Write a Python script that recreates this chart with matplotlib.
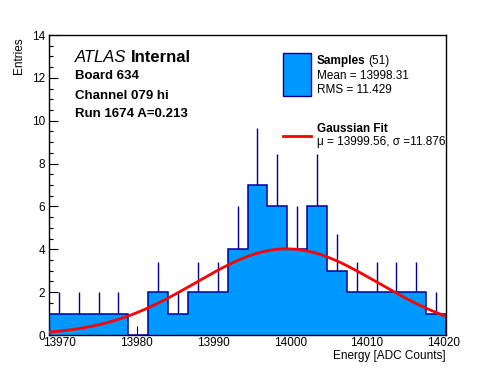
import numpy as np
import matplotlib
matplotlib.use("Agg")
import matplotlib.pyplot as plt
from matplotlib.ticker import MultipleLocator

plt.rcParams['font.family'] = ['Liberation Sans', 'DejaVu Sans']

# ---- data ----
x_min, x_max = 13968.6, 14020.3
counts = [1, 1, 1, 1, 0, 2, 1, 2, 2, 4, 7, 6, 4, 6, 3, 2, 2, 2, 2, 1]
fit_amp = 4.02
fit_mu = 13999.56
fit_sigma = 11.876
n_samples = 51
mean_val = "13998.31"
rms_val = "11.429"
x_ticks = [13970, 13980, 13990, 14000, 14010, 14020]
y_ticks = [0, 2, 4, 6, 8, 10, 12, 14]

counts = np.array(counts, dtype=float)
edges = np.linspace(x_min, x_max, len(counts) + 1)
centers = 0.5 * (edges[:-1] + edges[1:])

W, H = 496, 372
fig = plt.figure(figsize=(W / 100, H / 100), dpi=100)
ax = fig.add_axes([49 / W, (H - 335) / H, (446 - 49) / W, (335 - 35) / H])

fill_c = '#0099ff'
edge_c = '#000099'

# error bars (partially hidden behind fill)
mask = counts > 0
err = np.sqrt(counts)
ax.vlines(centers[mask], (counts - err)[mask], (counts + err)[mask],
          color=edge_c, lw=1, zorder=1)
ax.stairs(counts, edges, fill=True, facecolor=fill_c, edgecolor='none',
          zorder=2, baseline=0)
ax.stairs(counts, edges, fill=False, edgecolor=edge_c, lw=1.1, zorder=3,
          baseline=0)

xs = np.linspace(x_min, x_max, 400)
ys = fit_amp * np.exp(-0.5 * ((xs - fit_mu) / fit_sigma) ** 2)
ax.plot(xs, ys, color='#ff0000', lw=2, zorder=4)

ax.set_xlim(x_min, x_max)
ax.set_ylim(0, 14)
ax.set_xticks(x_ticks)
ax.set_yticks(y_ticks)
ax.xaxis.set_minor_locator(MultipleLocator(2))
ax.yaxis.set_minor_locator(MultipleLocator(0.5))
ax.tick_params(which='both', direction='in', top=False, right=False,
               labelsize=8.5, width=0.8, color='black')
ax.tick_params(axis='x', which='major', length=6.5, pad=1.5)
ax.tick_params(axis='x', which='minor', length=3.2)
ax.tick_params(axis='y', which='major', length=6.5, pad=3)
ax.tick_params(axis='y', which='minor', length=3.2)
for s in ax.spines.values():
    s.set_linewidth(1)
    s.set_color('black')

# axis titles
fig.text(19 / W, 1 - 37 / H, 'Entries', rotation=90, ha='center', va='top',
         fontsize=8.5)
fig.text(446 / W, 1 - 356 / H, 'Energy [ADC Counts]', ha='right',
         va='center', fontsize=8.5)

# ATLAS labels
t = fig.text(75 / W, 1 - 57 / H, 'ATLAS', style='italic', fontsize=12,
             va='center', ha='left')
fig.canvas.draw()
bb = t.get_window_extent()
fig.text(bb.x1 / W + 4 / W, 1 - 57 / H, 'Internal', fontweight='bold',
         fontsize=12, va='center', ha='left')
fig.text(75 / W, 1 - 76 / H, 'Board 634', fontweight='bold', fontsize=9.5,
         va='center')
fig.text(75 / W, 1 - 96 / H, 'Channel 079 hi', fontweight='bold',
         fontsize=9.5, va='center')
fig.text(75 / W, 1 - 114 / H, 'Run 1674 A=0.213', fontweight='bold',
         fontsize=9.5, va='center')

# legend
ax_leg = fig.add_axes([0, 0, 1, 1], facecolor='none')
ax_leg.set_xlim(0, W)
ax_leg.set_ylim(H, 0)
ax_leg.axis('off')
ax_leg.add_patch(plt.Rectangle((283, 53), 28, 43, facecolor=fill_c,
                               edgecolor=edge_c, lw=1))
ax_leg.plot([283, 311], [136, 136], color='#ff0000', lw=2)
t2 = ax_leg.text(317, 61, 'Samples', fontweight='bold', fontsize=8.5,
                 va='center')
fig.canvas.draw()
bb2 = t2.get_window_extent()
fig.text(bb2.x1 / W + 3 / W, 1 - 61 / H, f'({n_samples})', fontsize=8.5,
         va='center')
ax_leg.text(317, 76, f'Mean = {mean_val}', fontsize=8.5, va='center')
ax_leg.text(317, 90, f'RMS = {rms_val}', fontsize=8.5, va='center')
ax_leg.text(317, 129, 'Gaussian Fit', fontweight='bold', fontsize=8.5,
            va='center')
ax_leg.text(317, 142, f'\u03bc = {fit_mu:.2f}, \u03c3 ={fit_sigma:.3f}',
            fontsize=8.5, va='center')

fig.savefig('out.png', dpi=100)
